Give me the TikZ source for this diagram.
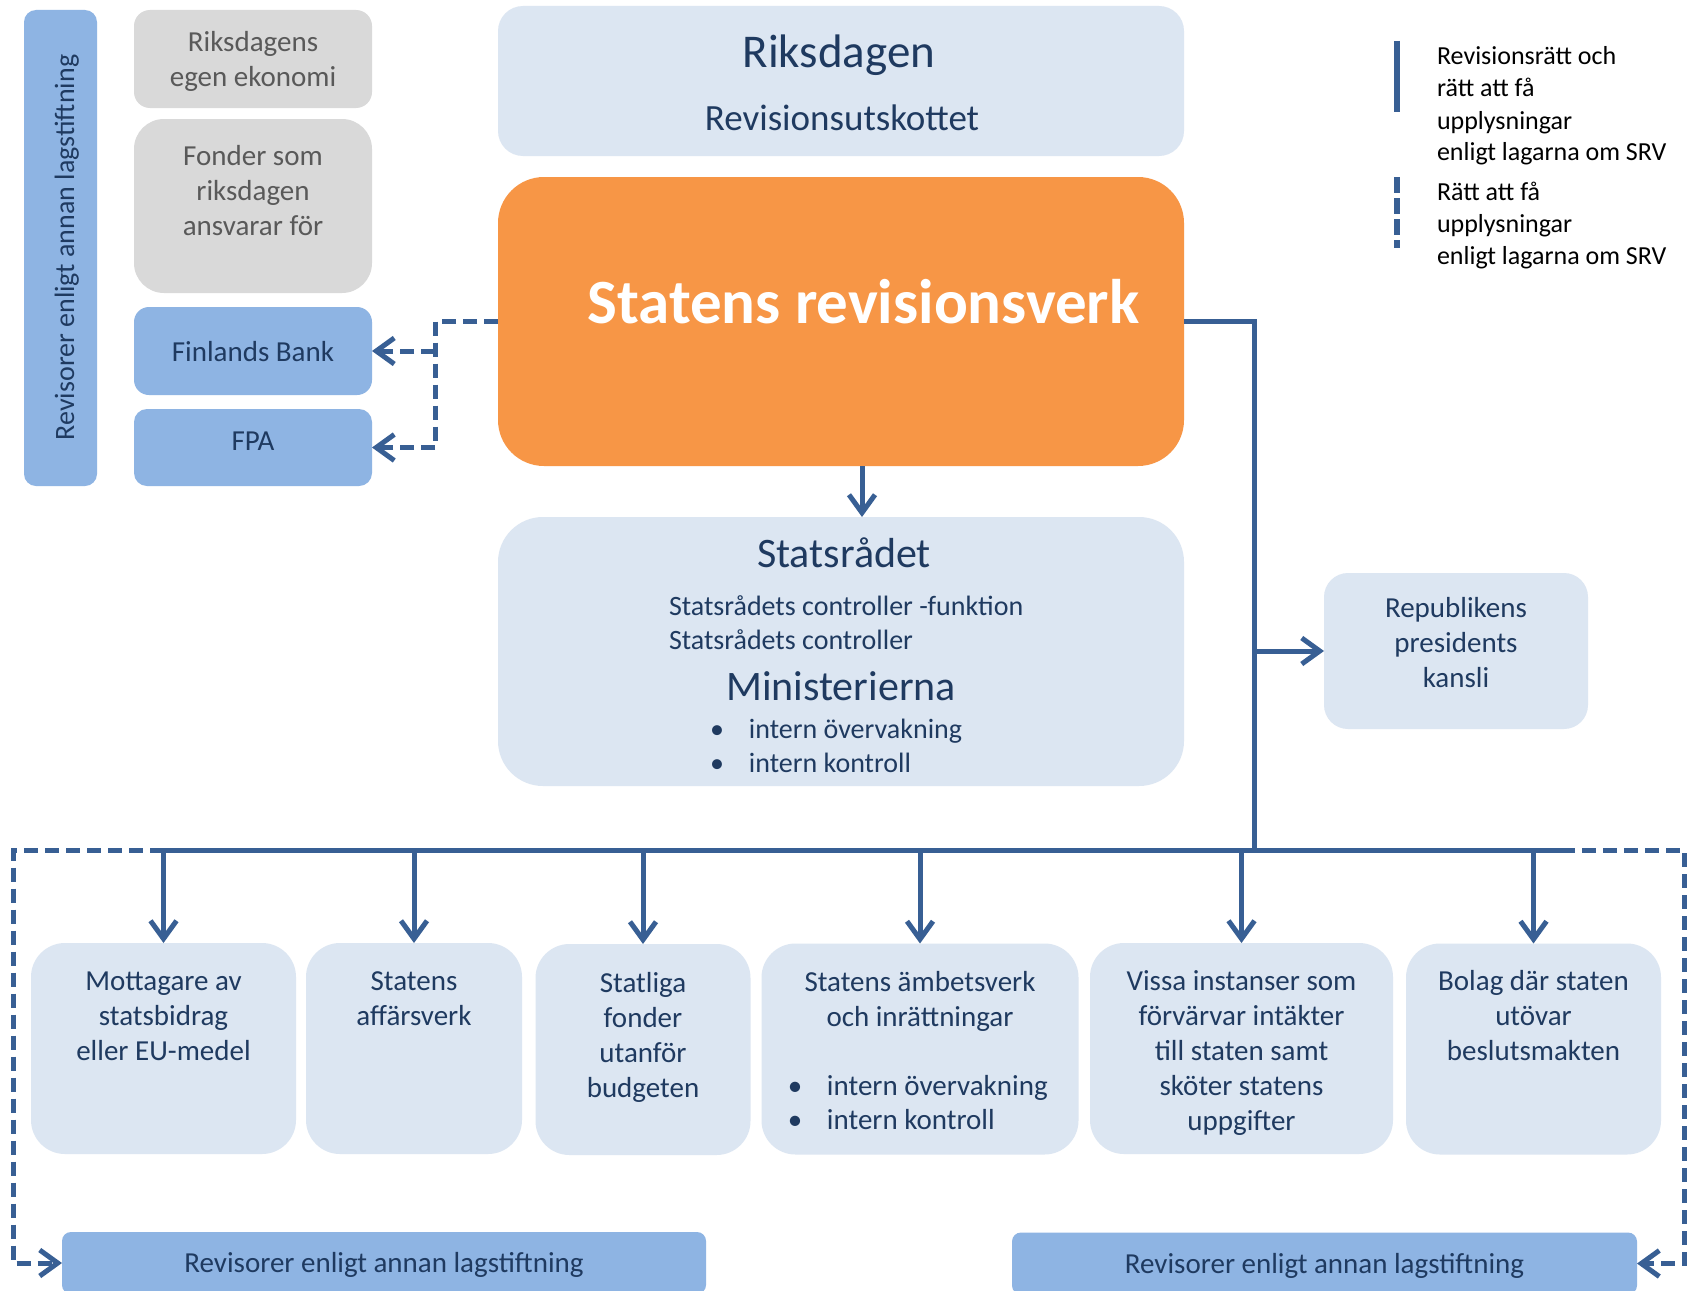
\documentclass[tikz,border=0pt]{standalone}
\usepackage{fontspec}
\setmainfont{Carlito}
\usetikzlibrary{arrows.meta}
\definecolor{lite}{HTML}{DCE6F2}
\definecolor{mid}{HTML}{8EB4E3}
\definecolor{gry}{HTML}{D9D9D9}
\definecolor{gtxt}{HTML}{595959}
\definecolor{navy}{HTML}{1F3A60}
\definecolor{orng}{HTML}{F79646}
\definecolor{conn}{HTML}{385F94}
\newcommand{\ml}[1]{\begin{tabular}[t]{@{}c@{}}#1\end{tabular}}
\newcommand{\mll}[1]{\begin{tabular}[t]{@{}l@{}}#1\end{tabular}}
\newcommand{\bul}{\llap{\makebox[0pt]{•}\hskip 32pt}}
\begin{document}
\begin{tikzpicture}[x=1pt,y=-1pt,
  bx/.style={rectangle, inner sep=0pt, outer sep=0pt},
  lbx/.style={bx, fill=lite},
  mbx/.style={bx, fill=mid},
  gbx/.style={bx, fill=gry},
  txt/.style={inner sep=0pt, outer sep=0pt, anchor=base, text=navy, font=\fontsize{29}{35}\selectfont},
  cl/.style={draw=conn, line width=5pt},
  dl/.style={draw=conn, line width=5pt, dash pattern=on 14pt off 7pt},
  tip/.style={-{Straight Barb[length=18pt,width=26pt]}}
]
\useasboundingbox (0,0) rectangle (1688,1290);
\fill[white] (0,0) rectangle (1688,1290);
\clip (0,0) rectangle (1688,1290);

% left column
\node[mbx, rounded corners=12pt, minimum width=73pt, minimum height=476pt] (lbar) at (60.5,248) {};
\node[txt, font=\fontsize{28}{34}\selectfont, rotate=90] (lbart) at (74,247.5) {Revisorer enligt annan lagstiftning};
\node[gbx, rounded corners=16pt, minimum width=238pt, minimum height=98pt] (rek) at (253,59) {};
\node[txt, text=gtxt] (rekt) at (253,52) {\ml{Riksdagens\\egen ekonomi}};
\node[gbx, rounded corners=30pt, minimum width=238pt, minimum height=174pt] (fon) at (253,206) {};
\node[txt, text=gtxt] (font) at (253,165) {\ml{Fonder som\\riksdagen\\ansvarar för}};
\node[mbx, rounded corners=15pt, minimum width=238pt, minimum height=88pt] (fb) at (253,351) {};
\node[txt] (fbt) at (253,361) {Finlands Bank};
\node[mbx, rounded corners=13pt, minimum width=238pt, minimum height=77pt] (fpa) at (253,447.5) {};
\node[txt] (fpat) at (253,450) {FPA};

% centre column
\node[lbx, rounded corners=25pt, minimum width=686pt, minimum height=150pt] (rd) at (841,81) {};
\node[txt, font=\fontsize{47}{56}\selectfont] (rdt) at (839,67) {Riksdagen};
\node[txt, font=\fontsize{37}{44}\selectfont] (rdu) at (842,130) {Revisionsutskottet};
\node[bx, fill=orng, rounded corners=46pt, minimum width=686pt, minimum height=289pt] (srv) at (841,321.5) {};
\node[txt, text=white, font=\fontsize{63}{76}\selectfont\bfseries] (srvt) at (863.5,323) {Statens revisionsverk};
\node[lbx, rounded corners=45pt, minimum width=686pt, minimum height=269pt] (srd) at (841,651.5) {};
\node[txt, font=\fontsize{42}{50}\selectfont] (srdt) at (844,567) {Statsrådet};
\node[txt, anchor=base west, font=\fontsize{28}{34}\selectfont] (srdc) at (669,615) {\mll{Statsrådets controller -funktion\\Statsrådets controller}};
\node[txt, font=\fontsize{42}{50}\selectfont] (mint) at (841,700) {Ministerierna};
\node[txt, anchor=base west, font=\fontsize{28}{34}\selectfont] (minb) at (749,738) {\mll{\bul intern övervakning\\\bul intern kontroll}};

% right
\node[lbx, rounded corners=24pt, minimum width=264pt, minimum height=156pt] (rep) at (1456,651) {};
\node[txt] (rept) at (1456,617) {\ml{Republikens\\presidents\\kansli}};

% legend
\draw[conn, line width=6pt] (1397,41) -- (1397,112);
\draw[conn, line width=6pt, dash pattern=on 16pt off 5pt] (1397,177) -- (1397,248);
\node[txt, anchor=base west, text=black, font=\fontsize{26}{32}\selectfont] (lg1) at (1437,65) {\mll{Revisionsrätt och\\rätt att få\\upplysningar\\enligt lagarna om SRV}};
\node[txt, anchor=base west, text=black, font=\fontsize{26}{32}\selectfont] (lg2) at (1437,200) {\mll{Rätt att få\\upplysningar\\enligt lagarna om SRV}};

% bottom boxes
\node[lbx, rounded corners=34pt, minimum width=265pt, minimum height=211pt] (b1) at (163.5,1048.5) {};
\node[txt] (b1t) at (163.5,990) {\ml{Mottagare av\\statsbidrag\\eller EU-medel}};
\node[lbx, rounded corners=34pt, minimum width=216pt, minimum height=211pt] (b2) at (414,1048.5) {};
\node[txt] (b2t) at (414,990) {\ml{Statens\\affärsverk}};
\node[lbx, rounded corners=34pt, minimum width=215pt, minimum height=211pt] (b3) at (643,1049.5) {};
\node[txt] (b3t) at (643,992) {\ml{Statliga\\fonder\\utanför\\budgeten}};
\node[lbx, rounded corners=34pt, minimum width=317pt, minimum height=211pt] (b4) at (920,1049) {};
\node[txt] (b4t) at (920,991) {\ml{Statens ämbetsverk\\och inrättningar}};
\node[txt, anchor=base west, font=\fontsize{29}{34}\selectfont] (b4b) at (827,1095) {\mll{\bul intern övervakning\\\bul intern kontroll}};
\node[lbx, rounded corners=34pt, minimum width=303pt, minimum height=211pt] (b5) at (1241.5,1048.5) {};
\node[txt] (b5t) at (1241.5,990) {\ml{Vissa instanser som\\förvärvar intäkter\\till staten samt\\sköter statens\\uppgifter}};
\node[lbx, rounded corners=34pt, minimum width=255pt, minimum height=211pt] (b6) at (1533.5,1049) {};
\node[txt] (b6t) at (1533.5,990) {\ml{Bolag där staten\\utövar\\beslutsmakten}};

\node[mbx, rounded corners=9pt, minimum width=644pt, minimum height=62pt] (bl) at (384,1263) {};
\node[txt] (blt) at (384,1272) {Revisorer enligt annan lagstiftning};
\node[mbx, rounded corners=9pt, minimum width=625pt, minimum height=62pt] (br) at (1324.5,1263.5) {};
\node[txt] (brt) at (1324.5,1273) {Revisorer enligt annan lagstiftning};

% connectors
\coordinate (jb) at (1254,850);
\coordinate (busl) at (163.5,850);
\coordinate (busr) at (1561,850);
\coordinate (dl1) at (435,321.5);
\coordinate (ax) at (862,0);
\draw[cl, line join=miter] (srv.east) -| (jb);
\draw[cl, tip] (jb |- rep.west) -- (rep.west);
\draw[cl, tip] (srv.south -| ax) -- (srd.north -| ax);
\draw[cl] (busl) -- (busr);
\foreach \b in {b1,b2,b3,b4,b5,b6} {
  \draw[cl, tip] (\b.north |- busl) -- (\b.north);
}
\draw[dl, tip] (srv.west) -- (dl1) |- (fpa.east);
\draw[dl, tip] (dl1 |- fb.east) -- (fb.east);
\draw[dl, tip] (busl) -- (13,850) |- (bl.west);
\draw[dl, tip] (busr) -- (1684,850) |- (br.east);
\end{tikzpicture}
\end{document}
